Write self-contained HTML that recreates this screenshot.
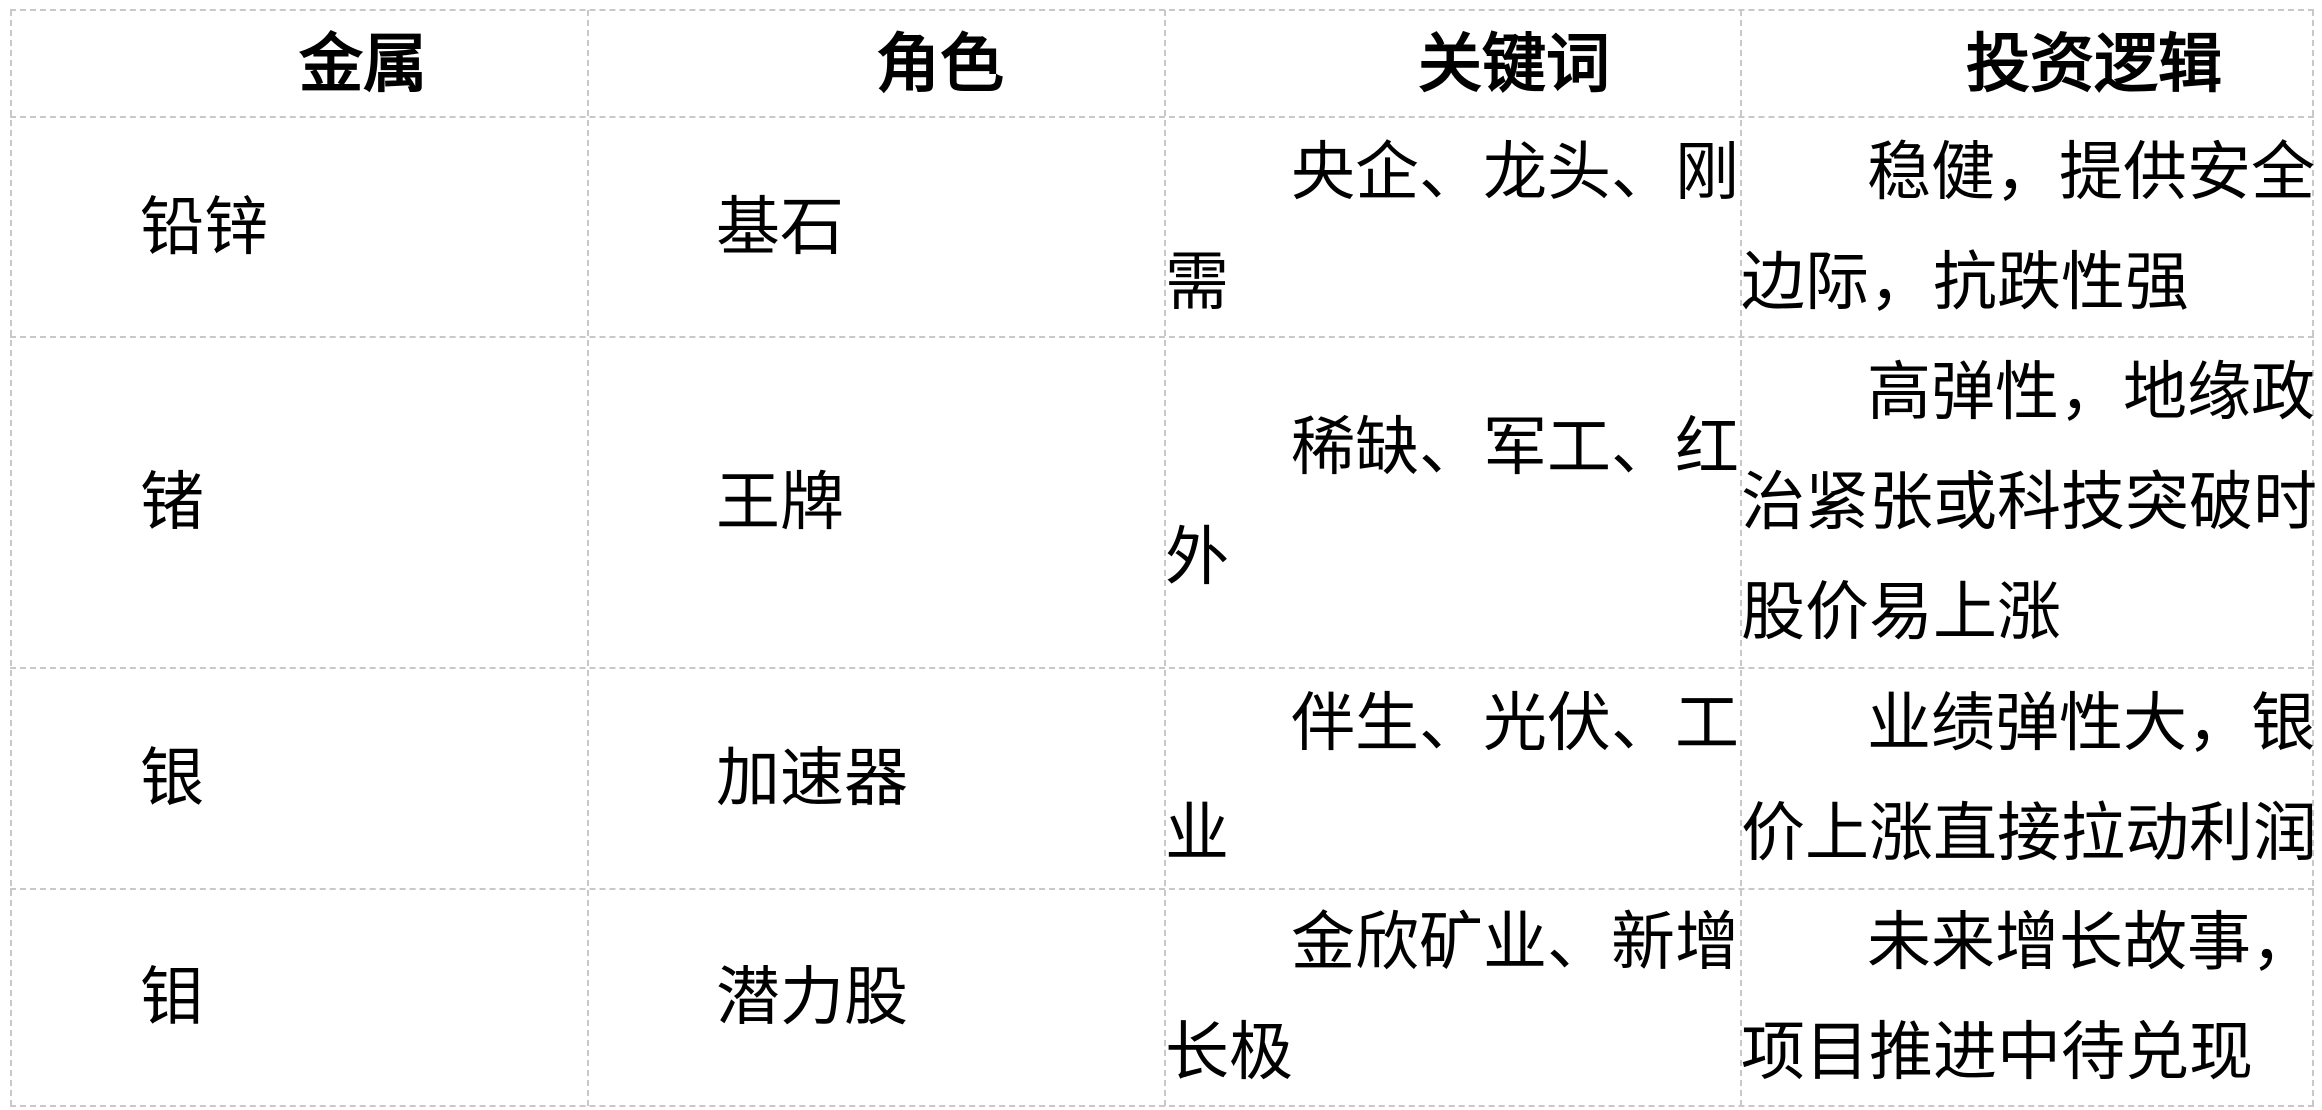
<!DOCTYPE html>
<html><head><meta charset="utf-8"><style>
html,body{margin:0;padding:0;background:#fff;width:2322px;height:1110px;overflow:hidden}
body{position:relative;font-family:"Liberation Sans","WenQuanYi Zen Hei",sans-serif;color:#000}
.h,.v{position:absolute;border:0 dashed #c8c8c8}
.h{height:0;border-top-width:2px;left:10px;width:2304px}
.v{width:0;border-left-width:2px;top:10px;height:1096px}
.c{position:absolute;display:flex;flex-direction:column;justify-content:center;font-size:64px;white-space:nowrap}
.c div{height:110px;line-height:110px}
.hd{font-weight:bold;text-align:center}
</style></head><body>
<div class="h" style="top:9px"></div>
<div class="h" style="top:116px"></div>
<div class="h" style="top:336px"></div>
<div class="h" style="top:667px"></div>
<div class="h" style="top:888px"></div>
<div class="h" style="top:1105px"></div>
<div class="v" style="left:10px"></div>
<div class="v" style="left:587px"></div>
<div class="v" style="left:1164px"></div>
<div class="v" style="left:1740px"></div>
<div class="v" style="left:2312px"></div>

<div class="c hd" style="left:299px;top:10px;width:289px;height:107px;text-align:left"><div>金属</div></div>
<div class="c hd" style="left:876px;top:10px;width:289px;height:107px;text-align:left"><div>角色</div></div>
<div class="c hd" style="left:1418px;top:10px;width:320px;height:107px;text-align:left"><div>关键词</div></div>
<div class="c hd" style="left:1966px;top:10px;width:340px;height:107px;text-align:left"><div>投资逻辑</div></div>

<div class="c" style="left:140px;top:117px;height:219px"><div>铅锌</div></div>
<div class="c" style="left:716px;top:117px;height:219px"><div>基石</div></div>
<div class="c" style="left:1165px;top:117px;height:219px"><div style="padding-left:126px">央企、龙头、刚</div><div>需</div></div>
<div class="c" style="left:1741px;top:117px;height:219px"><div style="padding-left:126px">稳健，提供安全</div><div>边际，抗跌性强</div></div>

<div class="c" style="left:140px;top:336px;height:332px"><div>锗</div></div>
<div class="c" style="left:716px;top:336px;height:332px"><div>王牌</div></div>
<div class="c" style="left:1165px;top:336px;height:332px"><div style="padding-left:126px">稀缺、军工、红</div><div>外</div></div>
<div class="c" style="left:1741px;top:336px;height:332px"><div style="padding-left:126px">高弹性，地缘政</div><div>治紧张或科技突破时</div><div>股价易上涨</div></div>

<div class="c" style="left:140px;top:668px;height:220px"><div>银</div></div>
<div class="c" style="left:716px;top:668px;height:220px"><div>加速器</div></div>
<div class="c" style="left:1165px;top:668px;height:220px"><div style="padding-left:126px">伴生、光伏、工</div><div>业</div></div>
<div class="c" style="left:1741px;top:668px;height:220px"><div style="padding-left:126px">业绩弹性大，银</div><div>价上涨直接拉动利润</div></div>

<div class="c" style="left:140px;top:888px;height:217px"><div>钼</div></div>
<div class="c" style="left:716px;top:888px;height:217px"><div>潜力股</div></div>
<div class="c" style="left:1165px;top:888px;height:217px"><div style="padding-left:126px">金欣矿业、新增</div><div>长极</div></div>
<div class="c" style="left:1741px;top:888px;height:217px"><div style="padding-left:126px">未来增长故事，</div><div>项目推进中待兑现</div></div>
</body></html>
